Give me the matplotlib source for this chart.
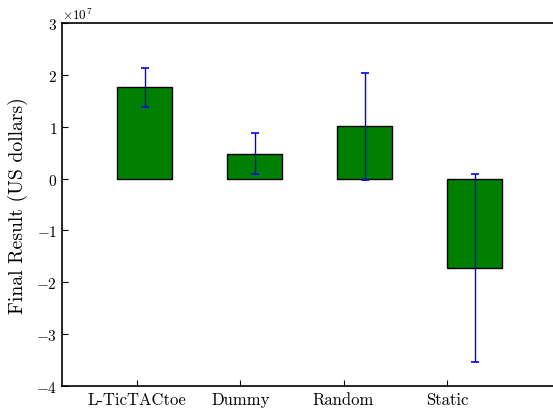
import numpy as np
import matplotlib
matplotlib.use("Agg")
import matplotlib.pyplot as plt

plt.rcParams.update({
    "font.family": "serif",
    "font.serif": ["cmr10"],
    "mathtext.fontset": "cm",
    "axes.formatter.use_mathtext": True,
    "font.size": 12,
})

# values (US dollars)
agents = ["L-TicTACtoe", "Dummy", "Random", "Static"]
results = [1.76e7, 0.48e7, 1.01e7, -1.72e7]
errors = [0.38e7, 0.39e7, 1.03e7, 1.81e7]
tick_pos = [0.18, 1.12, 2.06, 3.0]

fig = plt.figure(figsize=(5.53, 4.10), dpi=100)
ax = fig.add_axes([62 / 553, 23 / 410, 500 / 553, 363 / 410])

ind = np.arange(len(agents))
ax.bar(ind, results, 0.5, align="edge", color="green", edgecolor="black", linewidth=1)
ax.errorbar(ind + 0.25, results, yerr=errors, fmt="none", ecolor="blue",
            elinewidth=1, capsize=3, capthick=1.2)

ax.set_xlim(-0.5, 4.045)
ax.set_ylim(-4e7, 3e7)
ax.set_xticks(tick_pos)
ax.set_xticklabels(agents)
ax.set_ylabel("Final Result (US dollars)", fontsize=14.2, labelpad=6)
ax.tick_params(direction="in", length=4, top=False, right=False, labelsize=11)
ax.tick_params(axis="x", labelsize=12, pad=4)
ax.yaxis.get_offset_text().set_fontsize(9.5)
for s in ax.spines.values():
    s.set_linewidth(1.2)

fig.savefig("out.png", dpi=100)
